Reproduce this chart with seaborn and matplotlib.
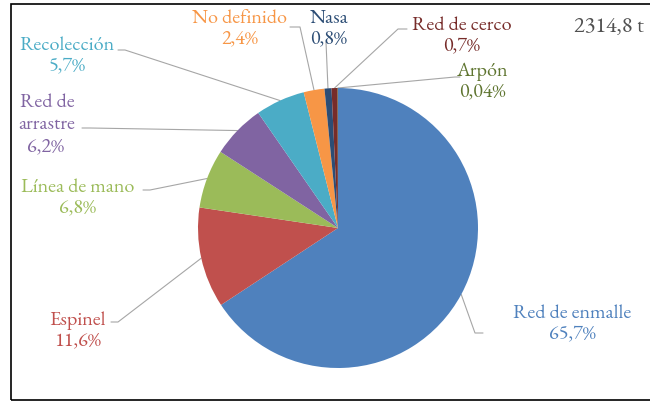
import numpy as np
import matplotlib
matplotlib.use('Agg')
import matplotlib.pyplot as plt
import seaborn as sns

# Datos: captura por arte de pesca (%)
categorias = ['Red de enmalle', 'Espinel', 'Línea de mano', 'Red de arrastre', 'Recolección',
              'No definido', 'Nasa', 'Red de cerco', 'Arpón']
porcentajes = [65.7, 11.6, 6.8, 6.2, 5.7, 2.4, 0.8, 0.7, 0.04]
etiquetas = ['Red de enmalle', 'Espinel', 'Línea de mano', 'Red de\narrastre', 'Recolección',
             'No definido', 'Nasa', 'Red de cerco', 'Arpón']
total = '2314,8 t'

colores = sns.color_palette(['#4F81BD', '#C0504D', '#9BBB59', '#8064A2', '#4BACC6',
                             '#F79646', '#2C4D75', '#772C2A', '#5F7530'])
colores_texto = ['#4F81BD', '#C0504D', '#9BBB59', '#8064A2', '#4BACC6',
                 '#F79646', '#2C4D75', '#772C2A', '#5F7530']

sns.set_style('white')
fuente = ['EB Garamond', 'Liberation Serif', 'DejaVu Serif']

W, H = 650, 409
fig = plt.figure(figsize=(W / 100, H / 100), dpi=100)
ax = fig.add_axes([0, 0, 1, 1])

# centro y radio del pastel en píxeles (y hacia arriba)
cx, cy, r = 338, H - 228, 140
wedges, _ = ax.pie(porcentajes, colors=colores, startangle=90, counterclock=False,
                   center=(cx, cy), radius=r, wedgeprops=dict(linewidth=0), frame=True)
ax.set_xlim(0, W)
ax.set_ylim(0, H)
ax.set_aspect('equal')
ax.axis('off')

# posiciones de las etiquetas (px, desde arriba) y puntos de las líneas guía
pos = {
    'Red de enmalle': (572, 324, [(483, 333), (475, 333)]),
    'Espinel': (78, 331, [(111, 322), (118, 322)]),
    'Línea de mano': (78, 198, [(143, 190), (150, 190)]),
    'Red de arrastre': (45, 125, [(82, 128), (90, 128)]),
    'Recolección': (67, 56, [(118, 50), (125, 50)]),
    'No definido': (240, 29, [(290, 27), (300, 27)]),
    'Nasa': (329, 29, [(326, 42)]),
    'Red de cerco': (462, 36, [(407, 29), (398, 29)]),
    'Arpón': (482, 82, [(460, 77), (455, 77)]),
}

fs = 14.5
estilo = dict(fontsize=fs, family=fuente, fontweight='semibold')
for w, cat, lab, pct, col in zip(wedges, categorias, etiquetas, porcentajes, colores_texto):
    tx, ty, pts = pos[cat]
    if pct < 0.1:
        pct_txt = f'{pct:.2f}'.replace('.', ',') + '%'
    else:
        pct_txt = f'{pct:.1f}'.replace('.', ',') + '%'
    if cat == 'Red de arrastre':
        ax.text(20, H - 103, 'Red de', color=col, ha='left', va='center', **estilo)
        ax.text(18, H - 125, 'arrastre', color=col, ha='left', va='center', **estilo)
        ax.text(45, H - 147, pct_txt, color=col, ha='center', va='center', **estilo)
    else:
        ax.text(tx, H - ty, lab + '\n' + pct_txt, color=col, ha='center', va='center',
                linespacing=1.15, **estilo)
    # línea guía hasta el borde del sector
    ang = np.deg2rad((w.theta1 + w.theta2) / 2)
    ex, ey = cx + r * np.cos(ang), cy + r * np.sin(ang)
    xs = [p[0] for p in pts] + [ex]
    ys = [H - p[1] for p in pts] + [ey]
    ax.plot(xs, ys, color='#A6A6A6', lw=0.8, zorder=0.5)

ax.text(609, H - 27, total, color='#505050', fontsize=16, family=fuente, fontweight='semibold',
        ha='center', va='center')

# marco del gráfico
ax.add_patch(plt.Rectangle((10.5, H - 400), 650, 396, fill=False, ec='black', lw=1.2, zorder=0))

fig.savefig('out.png', dpi=100)
